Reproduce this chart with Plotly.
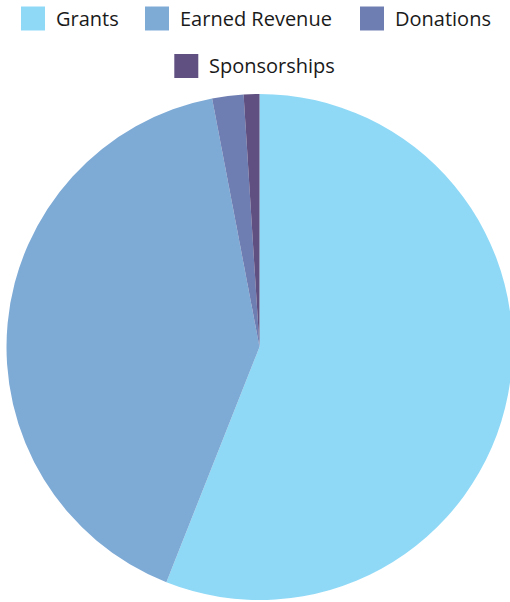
import plotly.graph_objects as go

categories = ["Grants", "Earned Revenue", "Donations", "Sponsorships"]
values = [56, 41, 2, 1]
colors = ["#8fd9f7", "#7eaad6", "#6e7eb2", "#5f5081"]

W, H = 519, 602

fig = go.Figure()
fig.add_trace(go.Pie(
    labels=categories,
    values=values,
    marker=dict(colors=colors, line=dict(color="white", width=0)),
    sort=False,
    direction="clockwise",
    rotation=0,
    textinfo="none",
    hoverinfo="label+percent",
    showlegend=False,
    domain=dict(x=[0, 1], y=[2 / H, 1 - 94 / H]),
))

# manual legend (rows of items), built from the category/colour lists
rows = [[0, 1, 2], [3]]
row_starts = [21, 174.3]
text_widths = [64, 155, 98, 129]
row_centers = [18.5, 66]
sw = 24
gap_text = 9
gap_item = 27
shapes = []
annotations = []
for r, items in enumerate(rows):
    x = row_starts[r]
    yc = row_centers[r]
    for i in items:
        shapes.append(dict(type="rect", xref="paper", yref="paper",
                           x0=x / W, x1=(x + sw) / W,
                           y0=1 - (yc + sw / 2) / H, y1=1 - (yc - sw / 2) / H,
                           fillcolor=colors[i], line=dict(width=0)))
        annotations.append(dict(text=categories[i], xref="paper", yref="paper",
                                x=(x + sw + gap_text) / W, y=1 - yc / H,
                                xanchor="left", yanchor="middle", showarrow=False,
                                font=dict(family="Open Sans", size=20, color="#1a1a1a")))
        x += sw + gap_text + text_widths[i] + gap_item

fig.update_layout(
    width=W, height=H,
    margin=dict(l=0, r=0, t=0, b=0),
    paper_bgcolor="white",
    plot_bgcolor="white",
    shapes=shapes,
    annotations=annotations,
)

fig.write_html(
    "out.html",
    config={"displayModeBar": False},
    post_script="document.body.style.margin='0';document.body.style.overflow='hidden';document.documentElement.style.overflow='hidden';",
)
